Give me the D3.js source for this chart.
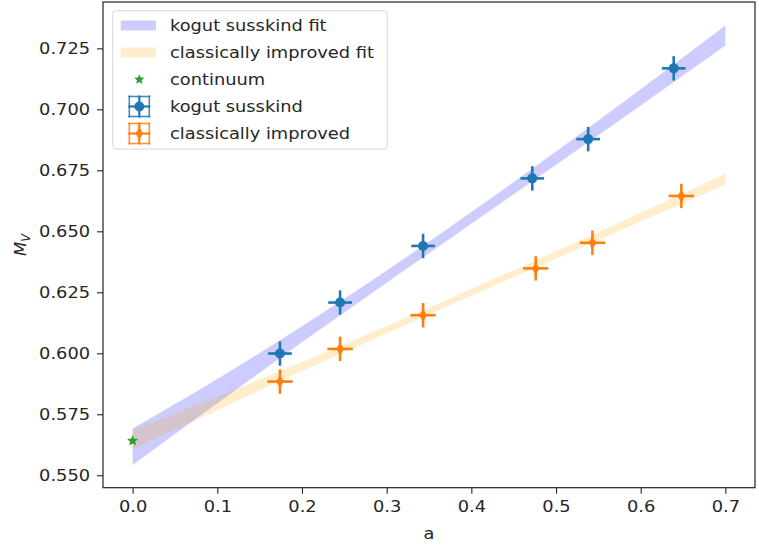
<!DOCTYPE html>
<html><head><meta charset="utf-8">
<script src="https://cdn.jsdelivr.net/npm/d3@7"></script>
<style>
body{margin:0;background:#fff}
svg{display:block}
text{font-family:"DejaVu Sans",sans-serif;fill:#262626}
</style>
</head><body>
<svg id="chart" width="759" height="546"></svg>
<script>
// ---- data ----
const xTicks = [0.0, 0.1, 0.2, 0.3, 0.4, 0.5, 0.6, 0.7];
const yTicks = [0.550, 0.575, 0.600, 0.625, 0.650, 0.675, 0.700, 0.725];

const ksA    = [0.174, 0.245, 0.343, 0.472, 0.538, 0.639];
const ksM    = [0.5999, 0.6208, 0.6440, 0.6717, 0.6878, 0.7168];
const ksAErr = [0.014, 0.014, 0.014, 0.014, 0.014, 0.014];
const ksMErr = [0.005, 0.005, 0.005, 0.005, 0.005, 0.005];

const ciA    = [0.174, 0.245, 0.343, 0.476, 0.543, 0.648];
const ciM    = [0.5884, 0.6018, 0.6156, 0.6348, 0.6453, 0.6645];
const ciAErr = [0.015, 0.015, 0.015, 0.015, 0.015, 0.015];
const ciMErr = [0.005, 0.005, 0.005, 0.005, 0.005, 0.005];

const contA = [0.0];
const contM = [0.5641];

const bandA = [0.0, 0.1, 0.2, 0.3, 0.4, 0.5, 0.6, 0.7];
const ksLo  = [0.5542, 0.5795, 0.6045, 0.6289, 0.6531, 0.6773, 0.7016, 0.7262];
const ksHi  = [0.5692, 0.5895, 0.6111, 0.6339, 0.6579, 0.6827, 0.7082, 0.7344];
const ciLo  = [0.5607, 0.5768, 0.5926, 0.6082, 0.6236, 0.6388, 0.6540, 0.6691];
const ciHi  = [0.5683, 0.5822, 0.5964, 0.6112, 0.6264, 0.6418, 0.6576, 0.6737];

const legendLabels = ["kogut susskind fit", "classically improved fit", "continuum", "kogut susskind", "classically improved"];

// ---- layout ----
const L = 103, R = 755, T = 2, B = 487.7;
const FS = 16.5, SX = 1.08;
const BLUE = "#1f77b4", ORANGE = "#ff7f0e", GREEN = "#2ca02c";

const svg = d3.select("#chart");
const x = d3.scaleLinear().domain([-0.035, 0.735]).range([L, R]);
const y = d3.scaleLinear().domain([0.5449, 0.744]).range([B, T]);

// bands
function band(lo, hi, color) {
  const rows = bandA.map((a, i) => ({a, lo: lo[i], hi: hi[i]}));
  const area = d3.area().x(d => x(d.a)).y0(d => y(d.lo)).y1(d => y(d.hi)).curve(d3.curveMonotoneX);
  svg.append("path").attr("d", area(rows)).attr("fill", color).attr("fill-opacity", 0.2).attr("stroke", "none");
}
band(ksLo, ksHi, "#0000ff");
band(ciLo, ciHi, "#ffa500");

// star path
function starPath(cx, cy, r) {
  const pts = [];
  for (let k = 0; k < 10; k++) {
    const ang = -Math.PI / 2 + k * Math.PI / 5;
    const rr = k % 2 === 0 ? r : r * 0.45;
    pts.push([cx + rr * Math.cos(ang), cy + rr * Math.sin(ang)]);
  }
  return "M" + pts.map(p => p.join(",")).join("L") + "Z";
}

// continuum
contA.forEach((a, i) => {
  svg.append("path").attr("d", starPath(x(a), y(contM[i]), 5.8)).attr("fill", GREEN);
});

// error bars + markers
function errSeries(A, M, AE, ME, color, marker) {
  const g = svg.append("g");
  A.forEach((a, i) => {
    const cx = x(a), cy = y(M[i]);
    g.append("line").attr("x1", x(a - AE[i])).attr("x2", x(a + AE[i])).attr("y1", cy).attr("y2", cy)
      .attr("stroke", color).attr("stroke-width", 2.6);
    g.append("line").attr("x1", cx).attr("x2", cx).attr("y1", y(M[i] - ME[i])).attr("y2", y(M[i] + ME[i]))
      .attr("stroke", color).attr("stroke-width", 2.6);
    if (marker === "circle") {
      g.append("circle").attr("cx", cx).attr("cy", cy).attr("r", 5).attr("fill", color);
    } else {
      g.append("path").attr("d", `M${cx},${cy-6.5}L${cx+3.8},${cy}L${cx},${cy+6.5}L${cx-3.8},${cy}Z`).attr("fill", color);
    }
  });
}
errSeries(ksA, ksM, ksAErr, ksMErr, BLUE, "circle");
errSeries(ciA, ciM, ciAErr, ciMErr, ORANGE, "diamond");

// axes
const yAxis = svg.append("g").attr("transform", `translate(${L},0)`)
  .call(d3.axisLeft(y).tickValues(yTicks).tickFormat(d3.format(".3f")).tickSize(6).tickPadding(6));
const xAxis = svg.append("g").attr("transform", `translate(0,${B})`)
  .call(d3.axisBottom(x).tickValues(xTicks).tickFormat(d3.format(".1f")).tickSize(6).tickPadding(6.5));
[yAxis, xAxis].forEach(ax => {
  ax.select(".domain").remove();
  ax.selectAll(".tick line").attr("stroke", "#222").attr("stroke-width", 1.1);
  ax.selectAll(".tick text").attr("font-size", FS).attr("fill", "#262626")
    .attr("font-family", "DejaVu Sans").attr("transform", `scale(${SX},1)`);
});

// spines
svg.append("rect").attr("x", L).attr("y", T).attr("width", R - L).attr("height", B - T)
  .attr("fill", "none").attr("stroke", "#222").attr("stroke-width", 1.2);

// axis labels
svg.append("text").attr("transform", `translate(${(L + R) / 2},539) scale(${SX},1)`)
  .attr("text-anchor", "middle").attr("font-size", FS).text("a");
const yl = svg.append("text").attr("transform", `translate(26,${(T + B) / 2}) rotate(-90)`)
  .attr("text-anchor", "middle").attr("font-size", FS);
yl.append("tspan").attr("font-style", "italic").text("M");
yl.append("tspan").attr("font-style", "italic").attr("font-size", FS * 0.7).attr("dy", 3.5).text("V");

// legend
const lg = svg.append("g");
lg.append("rect").attr("x", 112.7).attr("y", 10.7).attr("width", 274.6).attr("height", 138.3).attr("rx", 3.5)
  .attr("fill", "#fff").attr("fill-opacity", 0.8).attr("stroke", "#d6d6d6").attr("stroke-width", 1);
const rowY = [25.5, 52.5, 79.5, 106.5, 133.5];
const hx = 139.3;
// fit patches
[["#0000ff", 0], ["#ffa500", 1]].forEach(([c, i]) => {
  lg.append("rect").attr("x", 120.7).attr("y", rowY[i] - 5).attr("width", 35.3).attr("height", 10)
    .attr("fill", c).attr("fill-opacity", 0.2);
});
// star
lg.append("path").attr("d", starPath(hx, rowY[2], 5.3)).attr("fill", GREEN);
// errorbar icons
function errIcon(cy, color, marker) {
  const h = 11, c = 10;
  lg.append("line").attr("x1", hx - h).attr("x2", hx + h).attr("y1", cy).attr("y2", cy).attr("stroke", color).attr("stroke-width", 2.2);
  lg.append("line").attr("x1", hx).attr("x2", hx).attr("y1", cy - h).attr("y2", cy + h).attr("stroke", color).attr("stroke-width", 2.2);
  [[hx - c, cy - h, hx - c, cy + h], [hx + c, cy - h, hx + c, cy + h],
   [hx - h, cy - c, hx + h, cy - c], [hx - h, cy + c, hx + h, cy + c]].forEach(([a1, b1, a2, b2]) => {
    lg.append("line").attr("x1", a1).attr("y1", b1).attr("x2", a2).attr("y2", b2)
      .attr("stroke", color).attr("stroke-width", 1.6).attr("stroke-opacity", 0.85);
  });
  if (marker === "circle") lg.append("circle").attr("cx", hx).attr("cy", cy).attr("r", 5).attr("fill", color);
  else lg.append("path").attr("d", `M${hx},${cy-6.5}L${hx+3.8},${cy}L${hx},${cy+6.5}L${hx-3.8},${cy}Z`).attr("fill", color);
}
errIcon(rowY[3], BLUE, "circle");
errIcon(rowY[4], ORANGE, "diamond");
legendLabels.forEach((t, i) => {
  lg.append("text").attr("transform", `translate(170,${rowY[i]}) scale(${SX},1)`)
    .attr("dy", "0.35em").attr("font-size", FS).text(t);
});
</script>
</body></html>
